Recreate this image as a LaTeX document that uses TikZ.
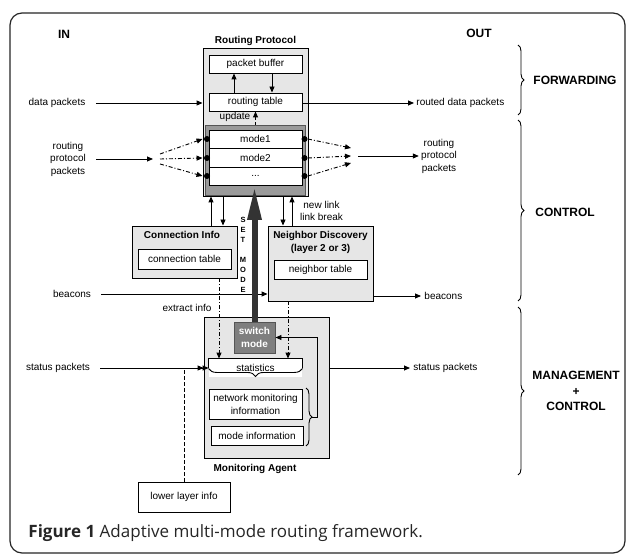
\documentclass[tikz,border=0pt]{standalone}
\usepackage{fontspec}
\setmainfont{Liberation Sans}
\newfontfamily\capfont{Open Sans}
\usetikzlibrary{arrows.meta,decorations.pathreplacing,calc}
\definecolor{boxgray}{HTML}{E6E6E6}
\definecolor{ringgray}{HTML}{9A9A9A}
\definecolor{darkring}{HTML}{555555}
\definecolor{switchgray}{HTML}{7F7F7F}
\definecolor{arrowdark}{HTML}{333333}
\begin{document}
\begin{tikzpicture}[x=1pt,y=-1pt,line width=0.9pt,
  lab/.style={inner sep=0pt,align=center,font=\fontsize{10}{12.5}\selectfont},
  blab/.style={inner sep=0pt,align=center,font=\fontsize{10}{13}\selectfont\bfseries},
  big/.style={inner sep=0pt,align=center,font=\fontsize{12}{16}\selectfont\bfseries},
  wbox/.style={draw,fill=white,inner sep=0pt,align=center,font=\fontsize{10}{13}\selectfont},
  gbox/.style={draw,fill=boxgray,inner sep=0pt},
  arr/.style={-{Triangle[length=6pt,width=5pt]}},
  ddash/.style={dash pattern=on 4pt off 2pt on 1pt off 2pt},
  dot/.style={circle,fill=black,inner sep=0pt,minimum size=6pt},
  brc/.style={decorate,decoration={brace,amplitude=#1}},
]
\useasboundingbox (0,0) rectangle (629,556);
\fill[white] (0,0) rectangle (629,556);
\draw[line width=1.2pt,rounded corners=12pt,black!85] (10,13) rectangle (625,553);

% headings
\node[big] (in) at (64,34) {IN};
\node[big] (out) at (479,33) {OUT};

% Routing protocol
\node[blab] (rplab) at (255.5,41) {Routing Protocol};
\node[gbox,minimum width=105pt,minimum height=148pt] (rp) at (255.5,122) {};
\node[wbox,minimum width=93pt,minimum height=18pt] (pb) at (255.5,64) {packet buffer};
\node[wbox,minimum width=93pt,minimum height=18pt] (rt) at (255.5,102) {routing table};
\draw[arr] ([xshift=-21.5pt]rt.north) -- ([xshift=-21.5pt]pb.south);
\draw[arr] ([xshift=16.5pt]pb.south) -- ([xshift=16.5pt]rt.north);
\node[draw=darkring,line width=1.6pt,fill=ringgray,inner sep=0pt,minimum width=100pt,minimum height=70pt] (mc) at (255.5,160.5) {};
\node[wbox,minimum width=93pt,minimum height=18.5pt] (m1) at (255.5,139.25) {mode1};
\node[wbox,minimum width=93pt,minimum height=18.5pt] (m2) at (255.5,157.75) {mode2};
\node[wbox,minimum width=93pt,minimum height=18.5pt] (m3) at (255.5,176.25) {...};
\node[lab] (upd) at (235,117) {update};
\draw[dashed,arr,dash pattern=on 3pt off 2pt] (mc.north) -- (mc.north |- rt.south);

% data packets
\node[lab] (dp) at (57,103) {data packets};
\draw[arr] ([xshift=10pt]dp.east) -- (rp.west |- dp.east);
\node[lab,anchor=west] (rdp) at (416,103) {routed data packets};
\draw[arr] (rt.east |- rdp.west) -- ([xshift=-2pt]rdp.west);

% dots
\node[dot] (l1) at (207,139) {};
\node[dot] (l2) at (207,158) {};
\node[dot] (l3) at (207,176) {};
\node[dot] (r1) at (304.5,139) {};
\node[dot] (r2) at (304.5,158) {};
\node[dot] (r3) at (304.5,176) {};

% routing protocol packets in
\node[lab,font=\fontsize{10}{12.5}\selectfont] (rpin) at (68,159) {routing\\protocol\\packets};
\coordinate (fl) at (153,159);
\draw[arr] ([xshift=10pt]rpin.east |- fl) -- (fl);
\draw[ddash,arr] ($(fl)+(7,-5)$) -- ([xshift=-1pt]l1.west);
\draw[ddash,arr] ($(fl)+(7,0)$) -- ([xshift=-1pt]l2.west);
\draw[ddash,arr] ($(fl)+(7,5)$) -- ([xshift=-1pt]l3.west);

% routing protocol packets out
\node[lab] (rpout) at (439,156) {routing\\protocol\\packets};
\coordinate (fr) at (353,156);
\draw[ddash,arr] (r1.east) -- ($(fr)+(-2,-8)$);
\draw[ddash,arr] (r2.east) -- ($(fr)+(-2,0)$);
\draw[ddash,arr] (r3.east) -- ($(fr)+(-2,7)$);
\draw[arr] ($(fr)+(5,0)$) -- ([xshift=-2pt]rpout.west |- fr);

% braces
\draw[brc=6pt] (518,45) -- (518,115);
\draw[brc=6pt] (518,120) -- (518,301);
\draw[brc=6pt] (518,307) -- (518,475);
\node[big] (fwd) at (575,80) {FORWARDING};
\node[big] (ctl) at (565,212) {CONTROL};
\node[big,font=\fontsize{12}{15.5}\selectfont\bfseries] (mgt) at (576,391) {MANAGEMENT\\+\\CONTROL};

% Connection info
\node[gbox,minimum width=105pt,minimum height=52pt] (ci) at (184.5,252) {};
\node[blab] (cilab) at (182,235) {Connection Info};
\node[wbox,minimum width=93pt,minimum height=20pt] (ct) at (184.5,259) {connection table};

% Neighbor discovery
\node[gbox,minimum width=105pt,minimum height=75pt] (nd) at (320.5,263.5) {};
\node[blab] (ndlab) at (320.5,242.5) {Neighbor Discovery\\(layer 2 or 3)};
\node[wbox,minimum width=93pt,minimum height=19pt] (nt) at (320.5,269.5) {neighbor table};

% arrows RP <-> CI / ND
\draw[arr] ([xshift=26.5pt]ci.north) -- ([xshift=-44.5pt]rp.south);
\draw[arr] ([xshift=-32.5pt]rp.south) -- ([xshift=38.5pt]ci.north);
\draw[arr] ([xshift=27.5pt]rp.south) -- ([xshift=-37.5pt]nd.north);
\draw[arr] ([xshift=-28.5pt]nd.north) -- ([xshift=36.5pt]rp.south);
\node[lab] (nl) at (321.5,211) {new link\\link break};

% SET MODE
\node[inner sep=0pt,align=center,font=\fontsize{7.5}{9.9}\selectfont\bfseries] (setm) at (243,255) {S\\E\\T\\[9.9pt]M\\O\\D\\E};

% beacons
\node[lab] (bl) at (72,294) {beacons};
\draw[arr] ([xshift=10pt]bl.east) -- (bl.east -| nd.west);
\node[lab,anchor=west] (br) at (424,296) {beacons};
\draw[arr] (nd.east |- br.west) -- ([xshift=-3pt]br.west);

\node[lab] (ei) at (187,308) {extract info};

% Monitoring agent
\node[gbox,minimum width=125pt,minimum height=141pt] (ma) at (266.5,387.5) {};
\node[blab] (malab) at (255,469) {Monitoring Agent};
\node[draw=darkring,fill=switchgray,inner sep=0pt,minimum width=41pt,minimum height=31pt,align=center,text=white,font=\fontsize{10}{12.5}\selectfont\bfseries] (sw) at (254.5,337.5) {switch\\mode};
\node[fill=white,inner sep=0pt,minimum width=93pt,minimum height=18pt,font=\fontsize{10}{13}\selectfont] (st) at (255.5,368) {statistics};
\draw ([yshift=9pt]st.south west) -- (st.north west) -- (st.north east) -- ([yshift=9pt]st.south east);
\draw[brc=8pt] ([yshift=9pt]st.south east) -- ([yshift=9pt]st.south west);
\node[wbox,minimum width=93pt,minimum height=30pt,font=\fontsize{10}{13}\selectfont] (nmi) at (255.5,404) {network monitoring\\information};
\node[wbox,minimum width=92pt,minimum height=19pt] (mi) at (257,435.5) {mode information};
\draw[brc=6pt] (306,388) -- (306,446);
\coordinate (bt) at (312,417);
\draw[arr] (bt) -- ++(5,0) |- (sw.east);

% thick set-mode arrow
\draw[line width=6pt,arrowdark,-{Triangle[length=34pt,width=13pt]}] (sw.north) -- (sw.north |- m3.south);

% extract info lines
\draw[ddash,arr] ([xshift=34.5pt]ci.south) -- ([xshift=-36.5pt]st.north);
\draw[ddash,arr] ([xshift=-32.5pt]nd.south) -- ([xshift=32.5pt]st.north);

% status packets
\node[lab] (spl) at (58,368) {status packets};
\draw[arr] ([xshift=10pt]spl.east) -- (st.west);
\node[lab,anchor=west] (spr) at (413,368) {status packets};
\draw[arr] (ma.east |- spr.west) -- ([xshift=-3pt]spr.west);

% lower layer info
\node[draw,fill=white,inner sep=0pt,minimum width=92pt,minimum height=30pt,font=\fontsize{10}{13}\selectfont] (lli) at (184,497) {lower layer info};
\draw[dashed,dash pattern=on 4pt off 2pt,arr] (lli.north) |- ([xshift=-5pt]st.west);

% caption
\node[anchor=base west,inner sep=0pt,text=black!85,font=\capfont\fontsize{17}{20}\selectfont] (cap) at (28,537) {\textbf{Figure 1} Adaptive multi-mode routing framework.};
\end{tikzpicture}
\end{document}
